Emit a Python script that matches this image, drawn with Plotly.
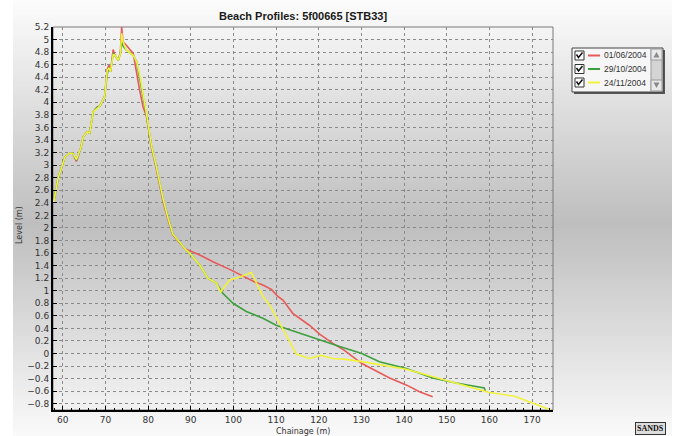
import plotly.graph_objects as go

# ---- data ----
red_x = [57.8, 58.0, 58.9, 60.5, 61.6, 62.3, 63.2, 64.2, 64.8, 65.7, 66.3, 67.1, 68.0, 68.7, 69.8, 70.4, 70.8, 71.2, 71.8, 72.2, 73.0, 73.5, 73.8, 74.1, 74.9, 76.5, 78.0, 78.8, 79.6, 80.8, 81.9, 83.5, 84.7, 85.8, 87.4, 88.6, 92.1, 95.2, 99.1, 102.2, 105.0, 106.9, 108.9, 110.4, 111.6, 113.9, 115.5, 117.8, 120.2, 123.3, 126.0, 130.1, 136.6, 140.5, 143.6, 146.7]
red_y = [2.45, 2.46, 2.79, 3.13, 3.19, 3.19, 3.06, 3.27, 3.45, 3.53, 3.51, 3.85, 3.92, 3.94, 4.09, 4.52, 4.59, 4.49, 4.84, 4.75, 4.67, 4.80, 5.20, 4.96, 4.91, 4.78, 4.20, 3.93, 3.78, 3.27, 2.95, 2.42, 2.12, 1.89, 1.76, 1.67, 1.57, 1.46, 1.34, 1.23, 1.14, 1.09, 1.02, 0.91, 0.85, 0.64, 0.56, 0.45, 0.31, 0.16, 0.05, -0.16, -0.39, -0.50, -0.61, -0.69]

green_x = [57.8, 58.0, 58.9, 60.5, 61.6, 62.3, 63.2, 64.2, 64.8, 65.7, 66.3, 67.1, 68.0, 68.7, 69.8, 70.4, 70.8, 71.2, 71.8, 72.2, 73.0, 73.5, 73.8, 74.1, 74.9, 76.5, 77.3, 78.0, 79.6, 80.8, 81.9, 83.5, 84.7, 85.8, 87.4, 88.6, 90.1, 92.1, 94.0, 96.0, 97.5, 99.9, 103.0, 106.9, 110.0, 113.9, 117.8, 121.8, 124.9, 130.1, 134.2, 140.5, 146.7, 152.2, 156.1, 158.8, 159.1]
green_y = [2.45, 2.46, 2.79, 3.13, 3.19, 3.19, 3.08, 3.27, 3.45, 3.53, 3.51, 3.85, 3.92, 3.94, 4.09, 4.45, 4.55, 4.49, 4.78, 4.75, 4.67, 4.78, 5.00, 4.90, 4.83, 4.75, 4.65, 4.41, 3.80, 3.30, 2.98, 2.45, 2.15, 1.90, 1.77, 1.67, 1.57, 1.41, 1.20, 1.12, 0.96, 0.80, 0.67, 0.56, 0.45, 0.36, 0.28, 0.19, 0.11, 0.00, -0.13, -0.24, -0.39, -0.47, -0.52, -0.55, -0.61]

yellow_x = [57.8, 58.0, 58.9, 60.5, 61.6, 62.3, 63.2, 64.2, 64.8, 65.7, 66.3, 67.1, 68.0, 68.7, 69.8, 70.4, 70.8, 71.2, 71.8, 72.2, 73.0, 73.5, 73.8, 74.1, 74.9, 76.5, 77.3, 78.0, 79.6, 80.8, 81.9, 83.5, 84.7, 85.8, 87.4, 88.6, 90.1, 92.1, 94.0, 96.0, 97.0, 99.1, 101.5, 104.2, 105.4, 106.9, 108.5, 110.0, 111.6, 113.2, 114.7, 117.8, 120.6, 123.3, 126.0, 130.1, 140.5, 146.7, 153.7, 160.0, 165.9, 169.4, 174.4]
yellow_y = [2.40, 2.46, 2.79, 3.13, 3.19, 3.19, 3.09, 3.27, 3.45, 3.53, 3.51, 3.85, 3.90, 3.94, 4.09, 4.50, 4.55, 4.49, 4.76, 4.75, 4.67, 4.78, 5.10, 4.96, 4.83, 4.75, 4.65, 4.45, 3.82, 3.30, 2.98, 2.46, 2.15, 1.90, 1.77, 1.67, 1.57, 1.41, 1.20, 1.12, 0.98, 1.17, 1.22, 1.29, 1.12, 0.91, 0.77, 0.59, 0.38, 0.19, -0.01, -0.08, -0.03, -0.08, -0.09, -0.13, -0.25, -0.37, -0.50, -0.62, -0.68, -0.77, -0.90]

series_names = ["01/06/2004", "29/10/2004", "24/11/2004"]
series_colors = ["#e85a5a", "#3f9f3f", "#f2f23a"]

title_text = "Beach Profiles: 5f00665 [STB33]"
x_title = "Chainage (m)"
y_title = "Level (m)"

# ---- layout geometry (pixels) ----
W, H = 678, 436
L, R, T, B = 53, 553, 27, 410
pw, ph = R - L, B - T


def px(x):
    return (x - L) / pw


def py(y):
    return (B - y) / ph


fig = go.Figure()
for xs, ys, name, col in zip([red_x, green_x, yellow_x], [red_y, green_y, yellow_y], series_names, series_colors):
    fig.add_trace(go.Scatter(x=xs, y=ys, mode="lines", name=name,
                             line=dict(color=col, width=1.6), showlegend=False))

shapes = []
# background vertical gradient (white -> grey -> white)
step = 3
for yy in range(0, H, step):
    mid = 222
    if yy <= mid:
        t = yy / mid
        g = 252 - (252 - 190) * t
    else:
        t = (yy - mid) / (H - mid)
        g = 190 + (250 - 190) * t
    g = int(round(g))
    shapes.append(dict(type="rect", xref="paper", yref="paper", layer="below",
                       x0=px(13), x1=px(672), y0=py(yy + step), y1=py(yy),
                       line=dict(width=0), fillcolor=f"rgb({g},{g},{g})"))
# plot frame (grey top/right)
shapes.append(dict(type="rect", xref="paper", yref="paper", x0=0, x1=1, y0=0, y1=1,
                   line=dict(color="#7a7a7a", width=1), layer="below"))

# ---- hand-built legend panel ----
LX0, LX1, LY0, LY1 = 572, 663, 48, 92
shapes.append(dict(type="rect", xref="paper", yref="paper",
                   x0=px(LX0 + 2), x1=px(LX1 + 2), y0=py(LY1 + 2), y1=py(LY0 + 2),
                   line=dict(width=0), fillcolor="#555555"))
shapes.append(dict(type="rect", xref="paper", yref="paper",
                   x0=px(LX0), x1=px(LX1), y0=py(LY1), y1=py(LY0),
                   line=dict(color="#444444", width=1), fillcolor="#f6f6f6"))
# scrollbar
shapes.append(dict(type="rect", xref="paper", yref="paper",
                   x0=px(651), x1=px(662), y0=py(91), y1=py(49),
                   line=dict(color="#999999", width=1), fillcolor="#d4d4d4"))
for (a, b) in [(49, 60), (80, 91)]:
    shapes.append(dict(type="rect", xref="paper", yref="paper",
                       x0=px(651), x1=px(662), y0=py(b), y1=py(a),
                       line=dict(color="#999999", width=1), fillcolor="#e8e8e8"))
# up / down arrows
shapes.append(dict(type="path", xref="paper", yref="paper", line=dict(width=0), fillcolor="#8a8a8a",
                   path=f"M {px(653.5)} {py(57.5)} L {px(659.5)} {py(57.5)} L {px(656.5)} {py(52)} Z"))
shapes.append(dict(type="path", xref="paper", yref="paper", line=dict(width=0), fillcolor="#8a8a8a",
                   path=f"M {px(653.5)} {py(82.5)} L {px(659.5)} {py(82.5)} L {px(656.5)} {py(88)} Z"))

row_y = [55.5, 69, 82.5]
for cy, col in zip(row_y, series_colors):
    # checkbox
    shapes.append(dict(type="rect", xref="paper", yref="paper",
                       x0=px(575), x1=px(584), y0=py(cy + 4.5), y1=py(cy - 4.5),
                       line=dict(color="#333333", width=1), fillcolor="white"))
    shapes.append(dict(type="path", xref="paper", yref="paper",
                       line=dict(color="#111111", width=1.5),
                       path=f"M {px(576.5)} {py(cy - 1)} L {px(578.5)} {py(cy + 2)} L {px(582.5)} {py(cy - 3)}"))
    # line sample
    shapes.append(dict(type="line", xref="paper", yref="paper",
                       x0=px(588), x1=px(600), y0=py(cy), y1=py(cy),
                       line=dict(color=col, width=2)))

annotations = [
    dict(text=f"<b>{title_text}</b>", x=0.5, y=py(16), xref="paper", yref="paper",
         yanchor="middle", showarrow=False,
         font=dict(family="Liberation Sans", size=11, color="#1a1a1a")),
    dict(text=x_title, x=0.5, y=py(431), xref="paper", yref="paper", showarrow=False,
         yanchor="middle", font=dict(family="DejaVu Sans", size=8, color="#333333")),
    dict(text=y_title, x=px(20), y=py(225), xref="paper", yref="paper", showarrow=False,
         xanchor="center", yanchor="middle",
         textangle=-90, font=dict(family="DejaVu Sans", size=8, color="#333333")),
    dict(text="<b>SANDS</b>", x=px(650), y=py(428.5), xref="paper", yref="paper",
         xanchor="center", yanchor="middle",
         showarrow=False, bordercolor="#333333", borderwidth=1, bgcolor="#dddddd",
         borderpad=1, font=dict(family="Liberation Serif", size=8, color="#111111")),
]
for cy, name in zip(row_y, series_names):
    annotations.append(dict(text=name, x=px(602), y=py(cy), xref="paper", yref="paper",
                            xanchor="left", yanchor="middle", showarrow=False,
                            font=dict(family="Liberation Sans", size=8.5, color="#333333")))

fig.update_layout(
    width=W, height=H,
    margin=dict(l=L, r=W - R, t=T, b=H - B, autoexpand=False),
    paper_bgcolor="white", plot_bgcolor="rgba(0,0,0,0)",
    shapes=shapes, annotations=annotations,
    showlegend=False, hovermode=False,
    font=dict(family="DejaVu Sans", size=9, color="#333333"),
)
fig.update_xaxes(range=[57.7, 174.9], dtick=10, tick0=0, showgrid=True, automargin=False,
                 gridcolor="#8a8a8a", griddash="dot", gridwidth=1,
                 showline=True, linecolor="black", linewidth=2, zeroline=False,
                 ticks="inside", ticklen=4, tickcolor="black",
                 minor=dict(dtick=2, ticks="inside", ticklen=2, tickcolor="black", showgrid=False),
                 tickfont=dict(size=9, color="#333333"))
fig.update_yaxes(range=[-0.9, 5.2], dtick=0.2, tick0=0, showgrid=True, automargin=False,
                 gridcolor="#8a8a8a", griddash="dot", gridwidth=1,
                 showline=True, linecolor="black", linewidth=2, zeroline=False,
                 ticks="inside", ticklen=4, tickcolor="black",
                 tickfont=dict(size=9, color="#333333"))

fig.write_html("out.html", config={"displayModeBar": False},
               post_script="document.body.style.margin='0px';document.body.style.overflow='hidden';")
